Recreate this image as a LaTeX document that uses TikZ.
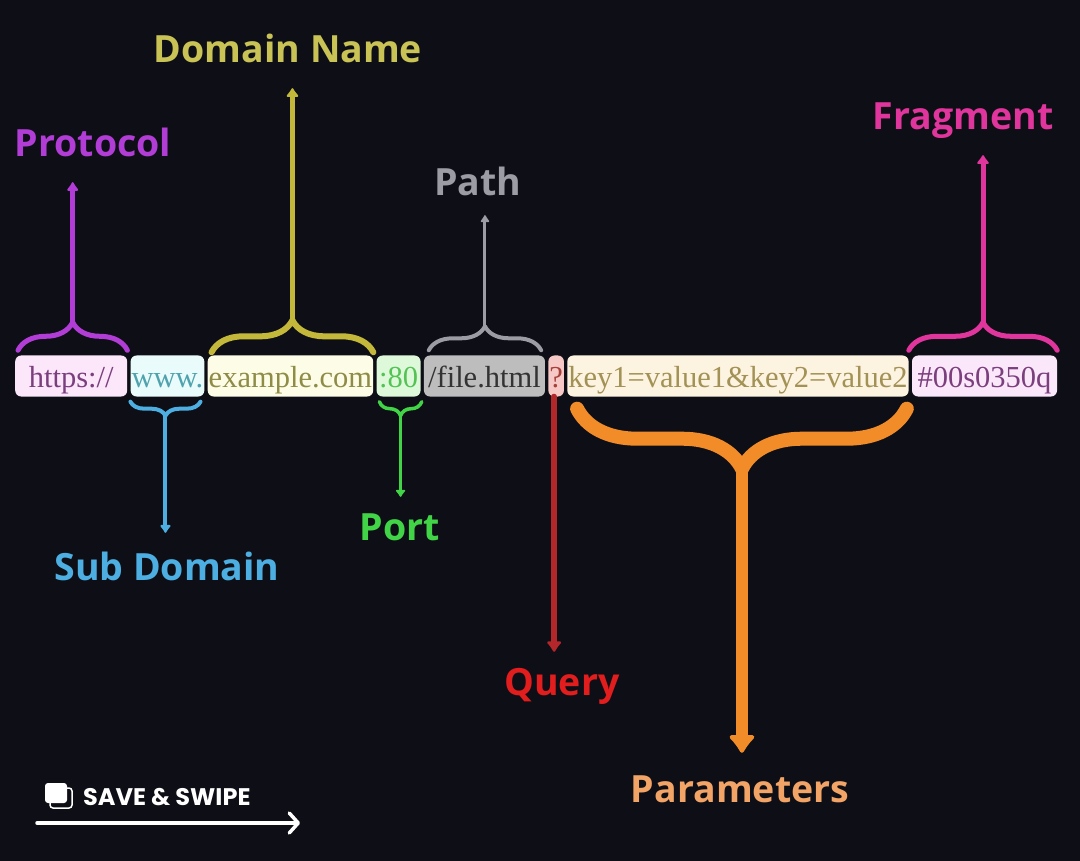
\documentclass[tikz,border=0pt]{standalone}
\usepackage{fontspec}
\setmainfont{Liberation Serif}
\newfontfamily\labelfont{Open Sans}
\newfontfamily\swipefont{Poppins}
\usepackage{tikz}
\usetikzlibrary{arrows.meta, calc, positioning, decorations.pathreplacing}
\tikzset{>={Latex[round]}}

\definecolor{bg}{HTML}{0E0F16}
\definecolor{protoCol}{HTML}{B23CD6}
\definecolor{subCol}{HTML}{4DAEE2}
\definecolor{domCol}{HTML}{C4B83A}
\definecolor{domText}{HTML}{C9C255}
\definecolor{portCol}{HTML}{42D447}
\definecolor{pathCol}{HTML}{9C9CA4}
\definecolor{queryCol}{HTML}{E11D1D}
\definecolor{queryLine}{HTML}{B3262A}
\definecolor{paramCol}{HTML}{F28C28}
\definecolor{paramText}{HTML}{F2A366}
\definecolor{fragCol}{HTML}{E0359C}

\begin{document}
\begin{tikzpicture}[
  x=1pt, y=1pt,
  part/.style={rectangle, rounded corners=6pt, minimum height=41pt, minimum width=#1, inner xsep=1pt, inner ysep=0pt, text height=27pt, text depth=5pt, font=\fontsize{30.5}{30.5}\selectfont},
  namelabel/.style={inner sep=0pt, text height=27pt, text depth=9pt, font=\labelfont\bfseries\fontsize{37.5}{37.5}\selectfont},
  curly/.style={decorate, decoration={brace, amplitude=#1}, line cap=round, line join=round},
  curlydown/.style={decorate, decoration={brace, mirror, amplitude=#1}, line cap=round, line join=round},
  pointer/.style={->, line cap=round, shorten >=16pt},
  swipelabel/.style={white, inner sep=0pt, font=\swipefont\bfseries\fontsize{24}{24}\selectfont}
]

% Background
\fill[bg] (0,0) rectangle (1080,-861);
\useasboundingbox (0,0) rectangle (1080,-861);

% The URL, one box per part
\node[part=112pt, anchor=west, fill={rgb,255:red,251;green,230;blue,250}, text={rgb,255:red,123;green,63;blue,126}] (proto) at (15,-376) {https://};
\node[part=70pt, right=3pt of proto, fill={rgb,255:red,233;green,251;blue,251}, text={rgb,255:red,79;green,163;blue,174}] (sub) {www.};
\node[part=165pt, right=3pt of sub, fill={rgb,255:red,253;green,252;blue,230}, text={rgb,255:red,142;green,140;blue,70}] (dom) {example.com};
\node[part=44pt, right=3pt of dom, fill={rgb,255:red,221;green,249;blue,218}, text={rgb,255:red,85;green,194;blue,85}] (port) {:80};
\node[part=121pt, right=3pt of port, fill={rgb,255:red,189;green,189;blue,189}, text={rgb,255:red,51;green,51;blue,51}] (path) {/file.html};
\node[part=14pt, right=3pt of path, fill={rgb,255:red,247;green,201;blue,198}, text={rgb,255:red,165;green,64;blue,58}] (query) {?};
\node[part=340pt, right=3pt of query, fill={rgb,255:red,253;green,243;blue,225}, text={rgb,255:red,163;green,146;blue,85}] (param) {key1=value1\&key2=value2};
\node[part=145pt, right=3pt of param, fill={rgb,255:red,251;green,231;blue,250}, text={rgb,255:red,123;green,63;blue,126}] (frag) {\#00s0350q};

% Names of the parts
\node[namelabel, text=protoCol] (protoLbl) at (93,-148) {Protocol};
\node[namelabel, text=domText] (domLbl) at (288,-54) {Domain Name};
\node[namelabel, text=pathCol] (pathLbl) at (478,-187) {Path};
\node[namelabel, text=fragCol] (fragLbl) at (963,-121) {Fragment};
\node[namelabel, text=subCol] (subLbl) at (167,-571) {Sub Domain};
\node[namelabel, text=portCol] (portLbl) at (400,-531) {Port};
\node[namelabel, text=queryCol] (queryLbl) at (562,-686) {Query};
\node[namelabel, text=paramText] (paramLbl) at (740,-793) {Parameters};

% Braces above the URL
\draw[curly=28pt, protoCol, line width=5pt] ($(proto.north west)+(3,5)$) -- ($(proto.north east)+(0,5)$);
\draw[curly=32pt, domCol, line width=6pt] ($(dom.north west)+(4,3)$) -- ($(dom.north east)+(0,3)$);
\draw[curly=24pt, pathCol, line width=4pt] ($(path.north west)+(5,5)$) -- ($(path.north east)+(-4,5)$);
\draw[curly=28pt, fragCol, line width=5pt] ($(frag.north west)+(-3,5)$) -- ($(frag.north east)+(0,5)$);

% Braces below the URL
\draw[curlydown=14pt, subCol, line width=4pt] ($(sub.south west)+(0,-5)$) -- ($(sub.south east)+(-4,-5)$);
\draw[curlydown=14pt, portCol, line width=3.5pt] ($(port.south west)+(3,-5)$) -- ($(port.south east)+(1,-5)$);
\draw[curlydown=60pt, paramCol, line width=14pt] ($(param.south west)+(10,-12)$) -- ($(param.south east)+(-2,-12)$);

% Tips of the braces
\coordinate (protoTip) at ($(proto.north)+(1.5,33)$);
\coordinate (domTip) at ($(dom.north)+(2,35)$);
\coordinate (pathTip) at ($(path.north)+(0.5,29)$);
\coordinate (fragTip) at ($(frag.north)+(-1.5,33)$);
\coordinate (subTip) at ($(sub.south)+(-2,-19)$);
\coordinate (portTip) at ($(port.south)+(2,-19)$);
\coordinate (queryFoot) at ($(query.south)+(-2,0)$);
\coordinate (paramTip) at ($(param.south)+(4,-72)$);

% Arrows to the names
\draw[pointer, protoCol, line width=4.5pt, -{Latex[round, length=10pt, width=14pt]}] (protoTip) -- (protoTip |- protoLbl.south);
\draw[pointer, domCol, line width=5pt, -{Latex[round, length=10pt, width=15pt]}] (domTip) -- (domTip |- domLbl.south);
\draw[pointer, pathCol, line width=3pt, shorten >=10pt, -{Latex[round, length=8pt, width=11pt]}] (pathTip) -- (pathTip |- pathLbl.south);
\draw[pointer, fragCol, line width=5pt, -{Latex[round, length=10pt, width=15pt]}] (fragTip) -- (fragTip |- fragLbl.south);
\draw[pointer, subCol, line width=4pt, shorten >=20pt, -{Latex[round, length=9pt, width=13pt]}] (subTip) -- (subTip |- subLbl.north);
\draw[pointer, portCol, line width=3.5pt, -{Latex[round, length=8pt, width=12pt]}] (portTip) -- (portTip |- portLbl.north);
\draw[pointer, queryLine, line width=6pt, -{Latex[round, length=12pt, width=18pt]}] (queryFoot) -- (queryFoot |- queryLbl.north);
\draw[pointer, paramCol, line width=12pt, shorten >=22pt, -{Latex[round, length=20pt, width=32pt]}] (paramTip) -- (paramTip |- paramLbl.north);

% Save & swipe
\draw[white, line width=1.5pt, rounded corners=3pt] (67,-788) -- (72,-788) -- (72,-808) -- (50,-808) -- (50,-803);
\fill[white, rounded corners=3pt] (45,-783) rectangle (67,-803);
\node[swipelabel, anchor=west] (saveLbl) at (83,-797) {SAVE \& SWIPE};
\coordinate (swipeStart) at (37,-823);
\coordinate (swipeEnd) at (300,-823);
\draw[white, line width=3.5pt, line cap=round, -{Straight Barb[length=9pt, width=20pt, round]}] (swipeStart) -- (swipeEnd);

\end{tikzpicture}
\end{document}
